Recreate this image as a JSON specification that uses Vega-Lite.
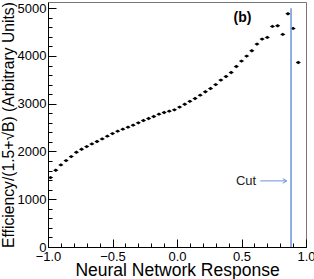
{
  "$schema": "https://vega.github.io/schema/vega-lite/v6.json",
  "width": 258,
  "height": 245,
  "autosize": "none",
  "padding": {"left": 48, "top": 2, "right": 8, "bottom": 32},
  "background": "white",
  "config": {
    "font": "Liberation Sans",
    "view": {"stroke": "#777", "strokeWidth": 1}
  },
  "datasets": {
    "pts": [
      {"x": -0.98, "y": 1453}, {"x": -0.94, "y": 1608}, {"x": -0.90, "y": 1719}, {"x": -0.86, "y": 1809},
      {"x": -0.82, "y": 1893}, {"x": -0.78, "y": 1985}, {"x": -0.74, "y": 2048}, {"x": -0.70, "y": 2103},
      {"x": -0.66, "y": 2159}, {"x": -0.62, "y": 2208}, {"x": -0.58, "y": 2264}, {"x": -0.54, "y": 2321},
      {"x": -0.50, "y": 2375}, {"x": -0.46, "y": 2425}, {"x": -0.42, "y": 2467}, {"x": -0.38, "y": 2509},
      {"x": -0.34, "y": 2551}, {"x": -0.30, "y": 2600}, {"x": -0.26, "y": 2648}, {"x": -0.22, "y": 2690},
      {"x": -0.18, "y": 2732}, {"x": -0.14, "y": 2782}, {"x": -0.10, "y": 2816}, {"x": -0.06, "y": 2845},
      {"x": -0.02, "y": 2872}, {"x": 0.02, "y": 2929}, {"x": 0.06, "y": 2990}, {"x": 0.10, "y": 3050},
      {"x": 0.14, "y": 3110}, {"x": 0.18, "y": 3180}, {"x": 0.22, "y": 3250}, {"x": 0.26, "y": 3320},
      {"x": 0.30, "y": 3400}, {"x": 0.34, "y": 3495}, {"x": 0.38, "y": 3570}, {"x": 0.42, "y": 3654},
      {"x": 0.46, "y": 3780}, {"x": 0.50, "y": 3893}, {"x": 0.54, "y": 3998}, {"x": 0.58, "y": 4109},
      {"x": 0.62, "y": 4249}, {"x": 0.66, "y": 4354}, {"x": 0.70, "y": 4388}, {"x": 0.74, "y": 4619},
      {"x": 0.78, "y": 4633}, {"x": 0.82, "y": 4451}, {"x": 0.86, "y": 4885}, {"x": 0.90, "y": 4577},
      {"x": 0.94, "y": 3864}
    ],
    "cut": [{"x": 0.884, "y": 0, "y2": 5000}],
    "arrow": [{"x": 0.645, "x2": 0.85, "y": 1384}],
    "labels": [
      {"x": 0.508, "y": 4800, "text": "(b)", "kind": "b"},
      {"x": 0.535, "y": 1384, "text": "Cut", "kind": "cut"}
    ]
  },
  "resolve": {"axis": {"x": "independent", "y": "independent"}},
  "layer": [
    {
      "data": {"name": "pts"},
      "mark": {"type": "point", "filled": true, "color": "black", "size": 14, "opacity": 1, "shape": "M -1.4 0 L 0 -0.9 L 1.4 0 L 0 0.9 Z"},
      "encoding": {
        "x": {
          "field": "x", "type": "quantitative",
          "scale": {"domain": [-1, 1], "nice": false, "zero": false},
          "axis": {
            "orient": "bottom", "title": null, "labels": false, "grid": false,
            "values": [-1, -0.9, -0.8, -0.7, -0.6, -0.5, -0.4, -0.3, -0.2, -0.1, 0, 0.1, 0.2, 0.3, 0.4, 0.5, 0.6, 0.7, 0.8, 0.9, 1],
            "ticks": true, "tickSize": -4, "tickColor": "black", "tickWidth": 1,
            "domain": true, "domainColor": "black"
          }
        },
        "y": {
          "field": "y", "type": "quantitative",
          "scale": {"domain": [0, 5130], "nice": false, "zero": false},
          "axis": {
            "orient": "left", "title": null, "labels": false, "grid": false,
            "values": [0, 200, 400, 600, 800, 1000, 1200, 1400, 1600, 1800, 2000, 2200, 2400, 2600, 2800, 3000, 3200, 3400, 3600, 3800, 4000, 4200, 4400, 4600, 4800, 5000],
            "ticks": true, "tickSize": -4, "tickColor": "black", "tickWidth": 1,
            "domain": true, "domainColor": "black"
          }
        }
      }
    },
    {
      "data": {"name": "cut"},
      "mark": {"type": "rule", "color": "#6b93dd", "strokeWidth": 1.5},
      "encoding": {
        "x": {
          "field": "x", "type": "quantitative",
          "scale": {"domain": [-1, 1], "nice": false, "zero": false},
          "axis": {
            "orient": "bottom",
            "title": "Neural Network Response",
            "titleFontSize": 17.5, "titleFontWeight": "normal", "titleColor": "black",
            "titleAnchor": "middle", "titlePadding": -2,
            "values": [-1, -0.5, 0, 0.5, 1],
            "format": ".1f",
            "labelFontSize": 13, "labelColor": "black", "labelPadding": 11, "labelFlush": false, "labelOverlap": false,
            "grid": false, "domain": false,
            "ticks": true, "tickColor": "black", "tickSize": -8, "tickWidth": 1
          }
        },
        "y": {
          "field": "y", "type": "quantitative",
          "scale": {"domain": [0, 5130], "nice": false, "zero": false},
          "axis": {
            "orient": "left",
            "title": "Efficiency/(1.5+√B) (Arbitrary Units)",
            "titleFontSize": 15.7, "titleFontWeight": "normal", "titleColor": "black",
            "titleAnchor": "middle", "titlePadding": 1,
            "values": [0, 1000, 2000, 3000, 4000, 5000],
            "format": "d",
            "labelFontSize": 13, "labelColor": "black", "labelPadding": 10, "labelFlush": false, "labelOverlap": false,
            "grid": false, "domain": false,
            "ticks": true, "tickColor": "black", "tickSize": -8, "tickWidth": 1
          }
        },
        "y2": {"field": "y2"}
      }
    },
    {
      "data": {"name": "arrow"},
      "mark": {"type": "rule", "color": "#6b93dd", "strokeWidth": 1},
      "encoding": {
        "x": {"field": "x", "type": "quantitative", "axis": null},
        "x2": {"field": "x2"},
        "y": {"field": "y", "type": "quantitative", "axis": null}
      }
    },
    {
      "data": {"name": "arrow"},
      "mark": {"type": "point", "shape": "M -1 -0.6 L 0 0 L -1 0.6", "filled": false, "stroke": "#6b93dd", "strokeWidth": 1, "size": 60, "opacity": 1},
      "encoding": {
        "x": {"field": "x2", "type": "quantitative", "axis": null},
        "y": {"field": "y", "type": "quantitative", "axis": null}
      }
    },
    {
      "data": {"name": "labels"},
      "transform": [{"filter": "datum.kind == 'b'"}],
      "mark": {"type": "text", "fontSize": 14, "fontWeight": "bold", "color": "black"},
      "encoding": {
        "x": {"field": "x", "type": "quantitative", "axis": null},
        "y": {"field": "y", "type": "quantitative", "axis": null},
        "text": {"field": "text"}
      }
    },
    {
      "data": {"name": "labels"},
      "transform": [{"filter": "datum.kind == 'cut'"}],
      "mark": {"type": "text", "fontSize": 13, "color": "#222"},
      "encoding": {
        "x": {"field": "x", "type": "quantitative", "axis": null},
        "y": {"field": "y", "type": "quantitative", "axis": null},
        "text": {"field": "text"}
      }
    }
  ]
}
